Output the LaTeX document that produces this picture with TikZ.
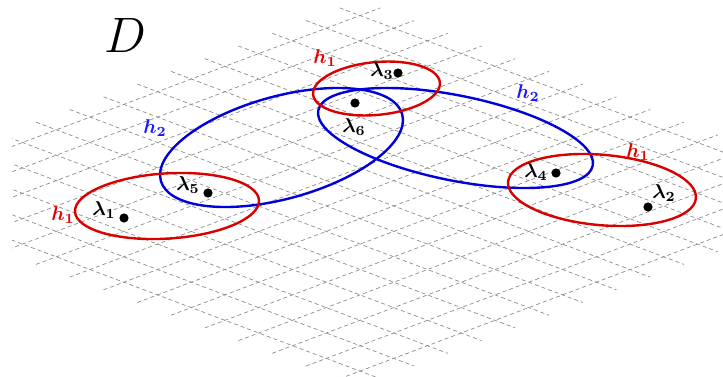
\documentclass[tikz,border=0pt]{standalone}
\usepackage{amsmath}
\begin{document}
\begin{tikzpicture}[x=0.5pt, y=0.5pt,
    gridline/.style={black!45, line width=0.35pt, dash pattern=on 2pt off 1.5pt},
    hone/.style={red!85!black, line width=1.2pt},
    htwo/.style={blue!85!black, line width=1.2pt},
    vert/.style={circle, fill=black, inner sep=0pt, minimum size=4.6pt},
    honelabel/.style={red!90!black},
    htwolabel/.style={blue!90!white}]
  \useasboundingbox (0,0) rectangle (723,376);
  % skewed background grid
  \begin{scope}
    \clip (12,0) rectangle (723,376);
    \begin{scope}[cm={33.75,-12.7,33.75,12.7,(-112.5,182.7)}]
      \foreach \k in {0,...,14} {
        \draw[gridline] (-0.6,\k) -- (14.6,\k);
        \draw[gridline] (\k,-0.6) -- (\k,14.6);
      }
    \end{scope}
  \end{scope}
  \node[font=\fontsize{24.88}{30}\selectfont] (dom) at (125,341) {$D$};
  % hyperedges h2
  \draw[htwo, rotate around={15.4:(281.5,228.5)}] (281.5,228.5) ellipse (125.2 and 51.2);
  \draw[htwo, rotate around={-11.4:(455.5,238)}] (455.5,238) ellipse (140 and 42.5);
  % hyperedges h1
  \draw[hone, rotate around={3.6:(167,170)}] (167,170) ellipse (92.2 and 32.6);
  \draw[hone, rotate around={5.4:(376.5,287.5)}] (376.5,287.5) ellipse (63.7 and 26.4);
  \draw[hone, rotate around={-5:(602,186)}] (602,186) ellipse (94.3 and 35.2);
  % vertices
  \foreach \n/\x/\y/\lx/\ly in {1/124/158/104/166, 2/648/169/664/183, 3/398/303/382/305,
      4/556/203/536/204, 5/208/183/188/191, 6/355/273/354/249} {
    \node[vert] (l\n) at (\x,\y) {};
    \node (t\n) at (\lx,\ly) {$\boldsymbol{\lambda_{\n}}$};
  }
  \node[honelabel] (ha) at (325,318) {$\boldsymbol{h_1}$};
  \node[honelabel] (hb) at (63,161) {$\boldsymbol{h_1}$};
  \node[honelabel] (hc) at (638,224) {$\boldsymbol{h_1}$};
  \node[htwolabel] (hd) at (155,248) {$\boldsymbol{h_2}$};
  \node[htwolabel] (he) at (528,283) {$\boldsymbol{h_2}$};
\end{tikzpicture}
\end{document}
